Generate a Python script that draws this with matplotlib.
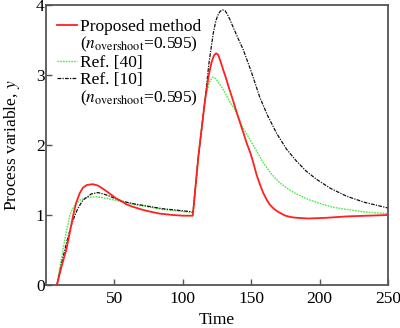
import matplotlib
matplotlib.use("Agg")
import matplotlib.pyplot as plt
from matplotlib.lines import Line2D

plt.rcParams['font.family'] = ['Liberation Serif', 'DejaVu Serif']
plt.rcParams['mathtext.fontset'] = 'stix'

# ---- data ----
t_prop = [8, 11, 14.9, 17.5, 19.8, 22, 24.6, 27, 30, 34.4, 38, 42, 47, 51, 55, 59, 63, 68, 73.3,
          83, 92.7, 100, 107.3,
          111.4, 116.3, 119, 121, 122.8, 124.3, 125.8, 127.5, 129.6, 131.5, 133.5, 137, 138.5,
          143, 147, 149.5, 151.5, 154, 156.5, 158.7, 161, 163.5, 166, 168.5, 172, 175, 179,
          183, 192, 205, 220, 235, 250]
y_prop = [0, 0.24, 0.51, 0.76, 0.99, 1.17, 1.31, 1.39, 1.43, 1.44, 1.42, 1.37, 1.30, 1.24, 1.20, 1.15, 1.12, 1.09, 1.06,
          1.02, 1.00, 0.99, 0.99,
          1.84, 2.65, 3.00, 3.18, 3.28, 3.31, 3.29, 3.20, 3.07, 2.96, 2.83, 2.62, 2.52,
          2.25, 2.01, 1.88, 1.75, 1.57, 1.43, 1.32, 1.23, 1.15, 1.10, 1.06, 1.02, 0.99, 0.97,
          0.96, 0.95, 0.96, 0.98, 0.99, 1.00]

t_ref40 = [8, 10, 12.5, 15, 17.4, 19, 21, 24.6, 28, 32, 36.8, 41, 45, 55, 64, 73.3, 85, 95, 104.8, 107.5,
           111.4, 116.3, 117.5, 119.5, 121.9, 124, 126.5, 129.6, 134, 138.3, 143, 149, 154,
           158.7, 165, 170.9, 177, 183.1, 192, 202.5, 210, 219.5, 235, 250]
y_ref40 = [0, 0.24, 0.51, 0.78, 0.99, 1.07, 1.14, 1.21, 1.24, 1.255, 1.26, 1.25, 1.235, 1.19, 1.15, 1.12, 1.08, 1.06, 1.04, 1.03,
           1.84, 2.65, 2.75, 2.90, 2.97, 2.95, 2.88, 2.79, 2.63, 2.50, 2.28, 2.08, 1.91,
           1.75, 1.58, 1.46, 1.37, 1.30, 1.22, 1.15, 1.11, 1.08, 1.04, 1.02]

t_ref10 = [8, 12, 16, 18.5, 21, 23, 25, 27, 29.5, 33, 38, 42, 45, 55, 64, 73.3, 85, 95, 104.8, 107.5,
           111.4, 116.3, 119, 120.8, 122.3, 124, 125.5, 127.3, 129.1, 130.8, 132.5, 134.5, 136,
           140, 144.2, 150, 156.3, 162, 168.5, 175.8, 183.1, 190, 197.7, 208, 219.5, 233, 250]
y_ref10 = [0, 0.36, 0.68, 0.85, 0.99, 1.08, 1.15, 1.21, 1.25, 1.30, 1.32, 1.30, 1.28, 1.20, 1.16, 1.13, 1.09, 1.07, 1.05, 1.04,
           1.84, 2.65, 3.15, 3.40, 3.60, 3.76, 3.85, 3.91, 3.93, 3.92, 3.87, 3.79, 3.72,
           3.54, 3.36, 3.05, 2.68, 2.42, 2.17, 1.94, 1.77, 1.63, 1.51, 1.38, 1.27, 1.18, 1.10]

labels = ["Proposed method", r"($n_{\mathrm{overshoot}}$=0.595)", "Ref. [40]", "Ref. [10]",
          r"($n_{\mathrm{overshoot}}$=0.595)"]
x_ticks = [50, 100, 150, 200, 250]
y_ticks = [0, 1, 2, 3, 4]

FS = 12.5

fig = plt.figure(figsize=(4.0, 3.28), dpi=100)
ax = fig.add_axes([0.115, 0.1311, 0.855, 0.8537])

c_red = '#ff2020'
c_green = '#44ee44'
c_black = '#111111'
ls_green = (0, (1.2, 0.8))
ls_black = (0, (3, 1, 1, 1))

ax.plot(t_prop, y_prop, color=c_red, lw=1.3, zorder=3)
ax.plot(t_ref40, y_ref40, color=c_green, lw=1.0, linestyle=ls_green, zorder=2)
ax.plot(t_ref10, y_ref10, color=c_black, lw=0.9, linestyle=ls_black, zorder=2)

ax.set_xlim(0, 250)
ax.set_ylim(0, 4)
ax.set_xticks(x_ticks)
ax.set_yticks(y_ticks)
ax.tick_params(direction='in', length=4, width=1.0, colors='#555555', labelcolor='black',
               labelsize=FS)
ax.tick_params(axis='y', pad=1.0)
ax.tick_params(axis='x', pad=4)
for s in ax.spines.values():
    s.set_color('#555555')
    s.set_linewidth(1.3)

ax.set_xlabel('Time', fontsize=FS, labelpad=4)
ax.set_ylabel('Process variable, $y$', fontsize=FS, labelpad=10)

handles = [Line2D([], [], color=c_red, lw=1.3),
           Line2D([], [], color='none'),
           Line2D([], [], color=c_green, lw=1.0, linestyle=ls_green),
           Line2D([], [], color=c_black, lw=0.9, linestyle=ls_black),
           Line2D([], [], color='none')]
ax.legend(handles, labels, loc='upper left', frameon=False, fontsize=FS,
          handlelength=1.15, handletextpad=0.17, labelspacing=0.04,
          borderpad=0.0, borderaxespad=0.0, bbox_to_anchor=(0.032, 0.952))

fig.savefig('out.png', dpi=100)
